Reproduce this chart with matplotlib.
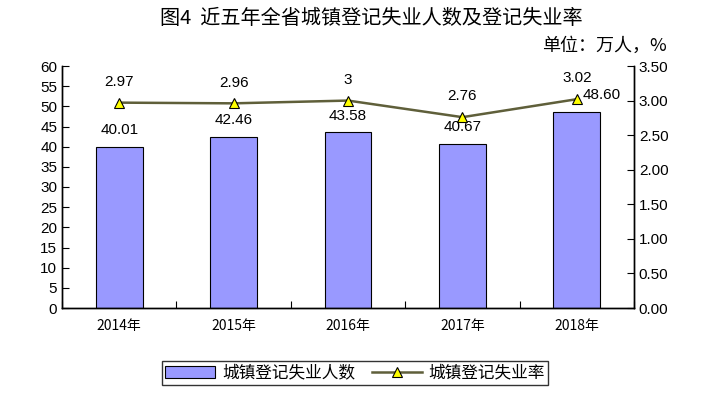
import numpy as np
import matplotlib.pyplot as plt
from matplotlib.lines import Line2D
from matplotlib.patches import Patch

plt.rcParams['font.family'] = ['Noto Sans CJK SC', 'DejaVu Sans']

# données
years = ['2014年', '2015年', '2016年', '2017年', '2018年']
chomeurs = [40.01, 42.46, 43.58, 40.67, 48.60]
taux = [2.97, 2.96, 3.00, 2.76, 3.02]
labels_taux = ['2.97', '2.96', '3', '2.76', '3.02']
labels_chom = ['40.01', '42.46', '43.58', '40.67', '48.60']

fig = plt.figure(figsize=(7.01, 4.00), dpi=100)
ax = fig.add_axes([62/701, 1-308/400, (634-62)/701, (308-66)/400])
ax2 = ax.twinx()

x = np.arange(len(years))
ax.bar(x, chomeurs, width=0.41, color='#9999FF', edgecolor='black', linewidth=0.8, zorder=2)
ax.set_ylim(0, 60)
ax.set_yticks(np.arange(0, 61, 5))
ax.set_xlim(-0.5, 4.5)
ax.set_xticks(np.arange(-0.5, 4.6, 1.0))
ax.set_xticklabels([])
ax.set_xticks(x, minor=True)
ax.set_xticklabels(years, minor=True, fontsize=10)
ax.tick_params(axis='x', which='minor', length=0, pad=8)
ax.tick_params(axis='x', which='major', direction='in', length=5)
ax.tick_params(axis='y', direction='in', length=5, labelsize=11)
for lab in ax.get_yticklabels():
    lab.set_family('Liberation Sans')

ax2.plot(x, taux, color='#5f5f3a', linewidth=1.8, marker='^', markersize=7,
         markerfacecolor='#FFFF00', markeredgecolor='black', markeredgewidth=0.8, zorder=3)
ax2.set_ylim(0, 3.5)
ax2.set_yticks(np.arange(0, 3.51, 0.5))
ax2.set_yticklabels([f'{v:.2f}' for v in np.arange(0, 3.51, 0.5)])
ax2.tick_params(axis='y', direction='in', length=5, labelsize=11)
for lab in ax2.get_yticklabels():
    lab.set_family('Liberation Sans')

for a in (ax, ax2):
    a.spines['top'].set_visible(False)
    for s in ('left', 'right', 'bottom'):
        a.spines[s].set_linewidth(1.0)

# étiquettes
for i in range(len(x)):
    dx = 18 if i == 4 else 0
    ax.annotate(labels_chom[i], (x[i], chomeurs[i]), xytext=(dx, 12), textcoords='offset points',
                ha='center', va='center', fontsize=11, family='Liberation Sans')
    ax2.annotate(labels_taux[i], (x[i], taux[i]), xytext=(0, 15), textcoords='offset points',
                 ha='center', va='center', fontsize=11, family='Liberation Sans')

fig.text(371/701, 1-18/400, '图4  近五年全省城镇登记失业人数及登记失业率', ha='center', va='center', fontsize=14.5)
fig.text(667/701, 1-46/400, '单位：万人，%', ha='right', va='center', fontsize=13)

handles = [Patch(facecolor='#9999FF', edgecolor='black', linewidth=0.8),
           Line2D([], [], color='#5f5f3a', linewidth=1.8, marker='^', markersize=7,
                  markerfacecolor='#FFFF00', markeredgecolor='black', markeredgewidth=0.8)]
leg = fig.legend(handles, ['城镇登记失业人数', '城镇登记失业率'], loc='center', bbox_to_anchor=(355/701, 1-373/400),
                 ncol=2, fontsize=12, frameon=True, fancybox=False, edgecolor='black',
                 handlelength=3.0, handletextpad=0.4, columnspacing=1.0, borderpad=0.2)
leg.get_frame().set_linewidth(1.0)

fig.savefig('out.png', dpi=100)
